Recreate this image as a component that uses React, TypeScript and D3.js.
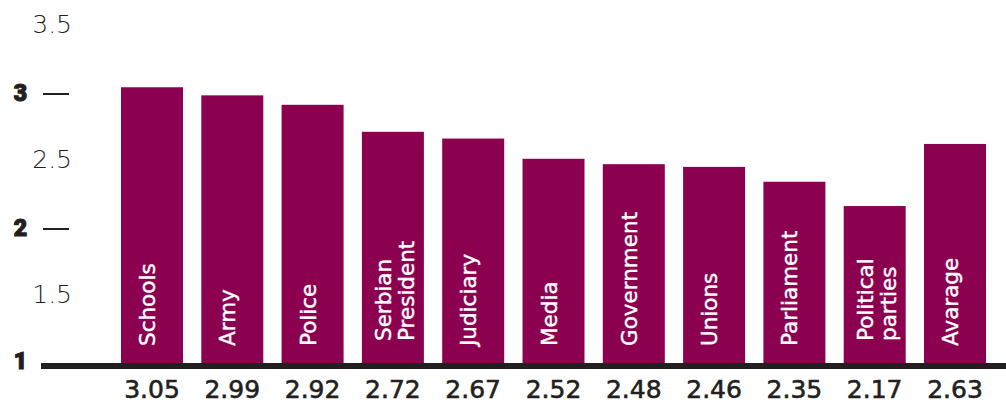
import React from "react";
import * as d3 from "d3";

const categories: string[][] = [
  ["Schools"],
  ["Army"],
  ["Police"],
  ["Serbian", "President"],
  ["Judiciary"],
  ["Media"],
  ["Government"],
  ["Unions"],
  ["Parliament"],
  ["Political", "parties"],
  ["Avarage"],
];
const values: number[] = [3.05, 2.99, 2.92, 2.72, 2.67, 2.52, 2.48, 2.46, 2.35, 2.17, 2.63];
const valueLabels: string[] = ["3.05", "2.99", "2.92", "2.72", "2.67", "2.52", "2.48", "2.46", "2.35", "2.17", "2.63"];
const minorTicks: number[] = [3.5, 2.5, 1.5];
const majorTicks: number[] = [3, 2, 1];

const W = 1006;
const H = 406;
const BAR = "#8c0050";
const DARK = "#231f20";
const FONT = "'DejaVu Sans', 'Noto Sans', sans-serif";

export default function App() {
  const keys = categories.map((c) => c.join(" "));
  const x = d3.scaleBand<string>().domain(keys).range([121, 986]).paddingInner(0.228).paddingOuter(0);
  const y = d3.scaleLinear().domain([1, 3.5]).range([364, 26.5]);
  const bw = x.bandwidth();

  return (
    <svg width={W} height={H} style={{ position: "absolute", left: 0, top: 0, background: "#fff" }}>
      {values.map((v, i) => {
        const k = keys[i];
        const x0 = x(k)!;
        const cx = x0 + bw / 2;
        const lines = categories[i];
        const two = lines.length > 1;
        return (
          <g key={k}>
            <rect x={x0} y={y(v)} width={bw} height={y(1) - y(v)} fill={BAR} />
            {lines.map((ln, j) => (
              <text
                key={j}
                transform={`translate(${two ? cx - 2 + j * 23 : cx + 3},${two ? 341 : 346}) rotate(-90)`}
                fill="#fff"
                stroke="#fff"
                strokeWidth={0.4}
                fontFamily={FONT}
                fontSize={21.5}
                fontWeight={400}
              >
                {ln}
              </text>
            ))}
            <text
              x={cx}
              y={398}
              textAnchor="middle"
              fill={DARK}
              stroke={DARK}
              strokeWidth={0.6}
              fontFamily={FONT}
              fontSize={25}
              fontWeight={400}
            >
              {valueLabels[i]}
            </text>
          </g>
        );
      })}
      <rect x={41} y={363} width={W - 41} height={6} fill={DARK} />
      {minorTicks.map((t) => (
        <text
          key={t}
          x={72}
          y={y(t) + 6}
          textAnchor="end"
          fill={DARK}
          fontFamily={FONT}
          fontSize={25}
          fontWeight={200}
        >
          {t}
        </text>
      ))}
      {majorTicks.map((t) => (
        <g key={t}>
          <text
            x={27}
            y={y(t) + 7 - (t === 1 ? 2 : 0)}
            textAnchor="end"
            fill={DARK}
            stroke={DARK}
            strokeWidth={1.2}
            fontFamily="Roboto, 'DejaVu Sans', sans-serif"
            fontSize={23}
            fontWeight={900}
          >
            {t}
          </text>
          {t !== 1 && <rect x={43} y={y(t) - 1} width={26} height={2} fill={DARK} />}
        </g>
      ))}
    </svg>
  );
}
